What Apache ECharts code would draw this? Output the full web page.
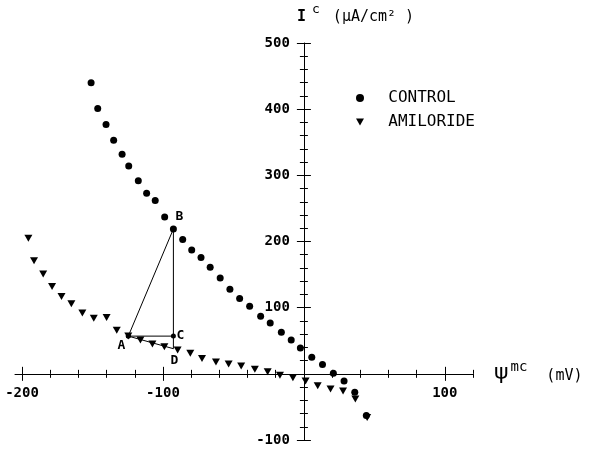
<!DOCTYPE html>
<html>
<head>
<meta charset="utf-8">
<script src="https://cdn.jsdelivr.net/npm/echarts@6/dist/echarts.min.js"></script>
<style>
  html, body { margin: 0; padding: 0; background: #fff; }
  #main { width: 589px; height: 451px; }
</style>
</head>
<body>
<div id="main"></div>
<script>
// control (circles)
var controlX = [-151, -146.3, -140.4, -135, -129, -124.3, -117.5, -111.6, -105.5, -98.8,
  -92.6, -86, -79.6, -73, -66.5, -59.4, -52.5, -45.6, -38.5, -30.7,
  -23.9, -16, -9, -2.5, 5.6, 13.2, 20.9, 28.5, 36.1, 44.3];
var controlY = [440, 401, 377, 353, 332, 314, 292, 273, 262, 237,
  219, 203, 187, 176, 161, 145, 128, 114, 102, 87,
  77, 63, 51, 39, 25, 14, 1, -11, -28, -63];

// amiloride (triangles)
var amiX = [-195.5, -191.5, -185, -178.7, -172, -165, -157.2, -149.1, -140, -132.8,
  -124.6, -116, -107.5, -99, -89.6, -80.6, -72.3, -62.4, -53.4, -44.5,
  -34.8, -25.7, -17, -7.8, 1.2, 9.8, 18.9, 27.8, 36.5, 44.9];
var amiY = [205, 171, 151, 132, 117, 106, 92, 84, 85, 66,
  57, 51, 45, 41, 36, 31, 23, 18, 15, 12,
  7, 3, -2, -6, -11, -18, -23, -26, -38, -66];

// construction triangle A B C D
var vertexNames = ['A', 'B', 'C', 'D'];
var vertexX = [-124.6, -92.6, -92.6, -92.6];
var vertexY = [57, 219, 57, 38];
var pathOrder = ['A', 'B', 'D', 'A', 'C'];

var xTicks = [-200, -180, -160, -140, -120, -100, -80, -60, -40, -20, 0, 20, 40, 60, 80, 100, 120];
var xMajor = [-200, -100, 100];
var xLabels = [-200, -100, 100];
var yTicks = [-100, -80, -60, -40, -20, 0, 20, 40, 60, 80, 100, 120, 140, 160, 180, 200,
  220, 240, 260, 280, 300, 320, 340, 360, 380, 400, 420, 440, 460, 480, 500];
var yMajor = [-100, 100, 200, 300, 400, 500];
var yLabels = [-100, 100, 200, 300, 400, 500];

var X_MIN = -205, X_MAX = 120, Y_MIN = -100, Y_MAX = 500;

var FONT = 'DejaVu Sans Mono';
var triDown = 'path://M0,0L10,0L5,9Z';

// grid box (px)
var G = { left: 15, top: 43, width: 458, height: 397 };
// where the zero lines fall, so the axes can cross there
var zeroX = G.left + G.width * (0 - X_MIN) / (X_MAX - X_MIN);
var zeroY = G.top + G.height * (Y_MAX - 0) / (Y_MAX - Y_MIN);
var offs = {
  bottom: -(G.top + G.height - zeroY),
  top: -(zeroY - G.top),
  left: -(zeroX - G.left),
  right: -(G.left + G.width - zeroX)
};

function zip(xs, ys) {
  return xs.map(function (x, i) { return [x, ys[i]]; });
}

function axis(dim, pos, ticks, len, showLine, labels) {
  return {
    type: 'value', position: pos, offset: offs[pos],
    min: dim === 'x' ? X_MIN : Y_MIN,
    max: dim === 'x' ? X_MAX : Y_MAX,
    axisLine: { show: showLine, onZero: false, lineStyle: { color: '#000', width: 1 } },
    axisTick: { show: true, customValues: ticks, length: len, lineStyle: { color: '#000', width: 1 } },
    axisLabel: labels ? {
      show: true, customValues: labels, margin: dim === 'x' ? 13 : 14, color: '#000',
      fontFamily: FONT, fontSize: 14, fontWeight: 'bold'
    } : { show: false },
    splitLine: { show: false }
  };
}

var labelOffsets = { A: [-7, 10], B: [6, -12], C: [7, 0], D: [1, 12] };

var verts = {};
vertexNames.forEach(function (n, i) { verts[n] = [vertexX[i], vertexY[i]]; });

var chart = echarts.init(document.getElementById('main'));

var option = {
  animation: false,
  backgroundColor: '#fff',
  grid: { left: G.left, top: G.top, width: G.width, height: G.height, containLabel: false, outerBoundsMode: 'none' },
  xAxis: [
    axis('x', 'bottom', xTicks, 4, true, xLabels),
    axis('x', 'top', xTicks, 4, false, null),
    axis('x', 'bottom', xMajor, 7, false, null),
    axis('x', 'top', xMajor, 7, false, null)
  ],
  yAxis: [
    axis('y', 'left', yTicks, 4, true, yLabels),
    axis('y', 'right', yTicks, 4, false, null),
    axis('y', 'left', yMajor, 7, false, null),
    axis('y', 'right', yMajor, 7, false, null)
  ],
  legend: {
    orient: 'vertical', left: 351, top: 85,
    itemWidth: 8, itemHeight: 8, itemGap: 8,
    formatter: function (n) { return '  ' + n; },
    textStyle: { fontFamily: FONT, fontSize: 16, lineHeight: 15, color: '#000' },
    data: [
      { name: 'CONTROL', icon: 'circle', itemStyle: { color: '#000', opacity: 1 } },
      { name: 'AMILORIDE', icon: triDown, itemStyle: { color: '#000', opacity: 1 } }
    ]
  },
  graphic: [
    {
      type: 'text', left: 297, top: 3,
      style: {
        text: '{i|I}{c|c}{u|(\u03bcA/cm\u00b2 )}',
        fill: '#000',
        rich: {
          i: { fontFamily: FONT, fontSize: 15, fontWeight: 'bold', lineHeight: 22, verticalAlign: 'bottom' },
          c: { fontFamily: FONT, fontSize: 13, lineHeight: 14, verticalAlign: 'top', padding: [0, 0, 0, 6] },
          u: { fontFamily: FONT, fontSize: 15, lineHeight: 22, verticalAlign: 'bottom', padding: [0, 0, 0, 13] }
        }
      }
    },
    {
      type: 'text', left: 494, top: 360,
      style: {
        text: '{p|\u03c8}{s|mc}{u|(mV)}',
        fill: '#000',
        rich: {
          p: { fontFamily: 'DejaVu Sans', fontSize: 22, lineHeight: 24, verticalAlign: 'bottom' },
          s: { fontFamily: FONT, fontSize: 14, lineHeight: 14, verticalAlign: 'top', padding: [0, 0, 0, 2] },
          u: { fontFamily: FONT, fontSize: 15, lineHeight: 20, verticalAlign: 'bottom', padding: [0, 0, 0, 19] }
        }
      }
    }
  ],
  series: [
    {
      name: 'construction', type: 'line', silent: true,
      data: pathOrder.map(function (n) {
        return { value: verts[n], symbolSize: (n === 'A' || n === 'C') ? 5 : 0 };
      }),
      symbol: 'circle', showSymbol: true,
      lineStyle: { color: '#000', width: 1 },
      itemStyle: { color: '#000', opacity: 1 },
      z: 2
    },
    {
      name: 'CONTROL', type: 'scatter',
      data: zip(controlX, controlY),
      symbol: 'circle', symbolSize: 7,
      itemStyle: { color: '#000', opacity: 1 },
      z: 3
    },
    {
      name: 'AMILORIDE', type: 'scatter',
      data: zip(amiX, amiY),
      symbol: triDown, symbolSize: [8, 7],
      itemStyle: { color: '#000', opacity: 1 },
      z: 3
    },
    {
      name: 'vertexLabels', type: 'scatter', silent: true,
      symbolSize: 0,
      itemStyle: { color: '#000', opacity: 1 },
      data: vertexNames.map(function (n) {
        return {
          name: n, value: verts[n],
          label: { offset: labelOffsets[n] }
        };
      }),
      label: {
        show: true, position: 'inside', formatter: '{b}',
        fontFamily: FONT, fontSize: 13, fontWeight: 'bold', color: '#000', opacity: 1
      },
      z: 4
    }
  ]
};

chart.setOption(option);
</script>
</body>
</html>
